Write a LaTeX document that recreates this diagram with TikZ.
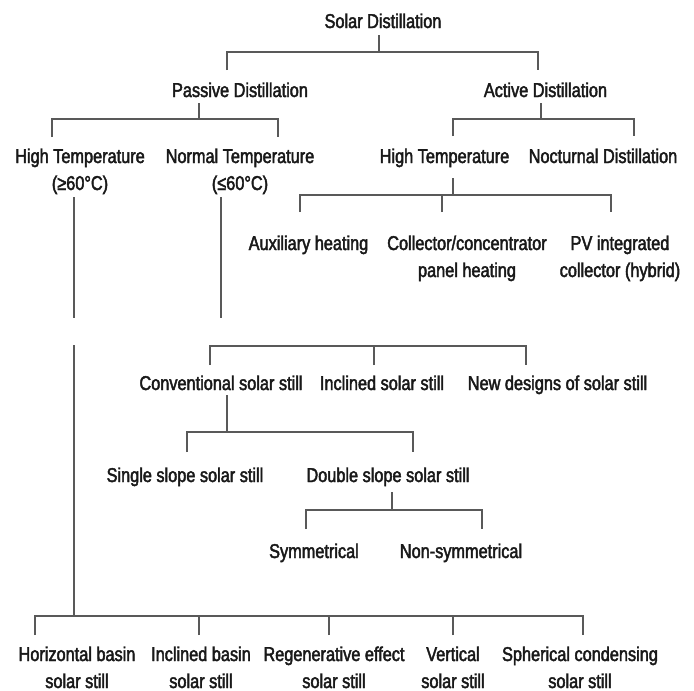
\documentclass[tikz,border=0pt]{standalone}
\usepackage{fontspec}
\setmainfont{Liberation Sans}[FakeStretch=0.815,FakeBold=2.2]
\begin{document}
\begin{tikzpicture}[x=1pt,y=-1pt,
  lbl/.style={anchor=base,inner sep=0pt,align=center,text=black!90,
    font=\fontsize{20}{27}\selectfont},
  conn/.style={draw=black!65,line width=1.1pt}]
\useasboundingbox[fill=white] (0,0) rectangle (694,691);
% nodes (base anchor = baseline of last line)
\node[lbl] (sd) at (383,28) {Solar Distillation};
\node[lbl] (pd) at (240,97) {Passive Distillation};
\node[lbl] (ad) at (545.5,97) {Active Distillation};
\node[lbl] (ht1) at (80,190) {High Temperature\\(≥60°C)};
\node[lbl] (nt) at (240,190) {Normal Temperature\\(≤60°C)};
\node[lbl] (ht2) at (444.5,163) {High Temperature};
\node[lbl] (nd) at (603,163) {Nocturnal Distillation};
\node[lbl] (aux) at (308.5,250) {Auxiliary heating};
\node[lbl] (col) at (467,277) {Collector/concentrator\\panel heating};
\node[lbl] (pv) at (620,277) {PV integrated\\collector (hybrid)};
\node[lbl] (conv) at (221,390) {Conventional solar still};
\node[lbl] (incl) at (382,390) {Inclined solar still};
\node[lbl] (new) at (557.5,390) {New designs of solar still};
\node[lbl] (ss) at (185,482) {Single slope solar still};
\node[lbl] (ds) at (388,482) {Double slope solar still};
\node[lbl] (sym) at (314,558) {Symmetrical};
\node[lbl] (nsym) at (461,558) {Non-symmetrical};
\node[lbl] (hb) at (77,688) {Horizontal basin\\solar still};
\node[lbl] (ib) at (201,688) {Inclined basin\\solar still};
\node[lbl] (re) at (334,688) {Regenerative effect\\solar still};
\node[lbl] (vs) at (453,688) {Vertical\\solar still};
\node[lbl] (sc) at (580,688) {Spherical condensing\\solar still};
% connector coordinates
\coordinate (sd-s) at (379,35);
\coordinate (pd-n) at (227,70);
\coordinate (ad-n) at (538,70);
\coordinate (pd-s) at (199,103);
\coordinate (ht1-n) at (52,137);
\coordinate (nt-n) at (278,137);
\coordinate (ad-s) at (541,103);
\coordinate (ht2-n) at (453,136);
\coordinate (nd-n) at (634,136);
\coordinate (ht2-s) at (453,178);
\coordinate (aux-n) at (300,212);
\coordinate (col-n) at (442,212);
\coordinate (pv-n) at (611,212);
\coordinate (ht1-s) at (74,197);
\coordinate (ht1-g1) at (74,318);
\coordinate (ht1-g2) at (74,345);
\coordinate (nt-s) at (221,197);
\coordinate (nt-g) at (221,318);
\coordinate (nt-b) at (221,346);
\coordinate (conv-n) at (210,365);
\coordinate (incl-n) at (374,365);
\coordinate (new-n) at (526,365);
\coordinate (conv-s) at (227,395);
\coordinate (ss-n) at (187,452);
\coordinate (ds-n) at (413,452);
\coordinate (ds-s) at (392,492);
\coordinate (sym-n) at (306,529);
\coordinate (nsym-n) at (482,529);
\coordinate (hb-n) at (35,635);
\coordinate (ib-n) at (199,635);
\coordinate (re-n) at (329,635);
\coordinate (vs-n) at (453,635);
\coordinate (sc-n) at (583,635);
% connectors
\draw[conn] (sd-s) -- (sd-s |- 0,52);
\draw[conn] (pd-n) |- (ad-n |- 0,52) -- (ad-n);
\draw[conn] (pd-s) -- (pd-s |- 0,119);
\draw[conn] (ht1-n) |- (nt-n |- 0,119) -- (nt-n);
\draw[conn] (ad-s) -- (ad-s |- 0,119);
\draw[conn] (ht2-n) |- (nd-n |- 0,119) -- (nd-n);
\draw[conn] (ht2-s) -- (ht2-s |- 0,195);
\draw[conn] (aux-n) |- (pv-n |- 0,195) -- (pv-n);
\draw[conn] (col-n) -- (col-n |- 0,195);
\draw[conn] (ht1-s) -- (ht1-g1);
\draw[conn] (ht1-g2) -- (ht1-g2 |- 0,616);
\draw[conn] (hb-n) |- (sc-n |- 0,616) -- (sc-n);
\draw[conn] (ib-n) -- (ib-n |- 0,616);
\draw[conn] (re-n) -- (re-n |- 0,616);
\draw[conn] (vs-n) -- (vs-n |- 0,616);
\draw[conn] (nt-s) -- (nt-g);
\draw[conn] (conv-n) |- (new-n |- nt-b) -- (new-n);
\draw[conn] (incl-n) -- (incl-n |- nt-b);
\draw[conn] (conv-s) -- (conv-s |- 0,432);
\draw[conn] (ss-n) |- (ds-n |- 0,432) -- (ds-n);
\draw[conn] (ds-s) -- (ds-s |- 0,510);
\draw[conn] (sym-n) |- (nsym-n |- 0,510) -- (nsym-n);
\end{tikzpicture}
\end{document}
